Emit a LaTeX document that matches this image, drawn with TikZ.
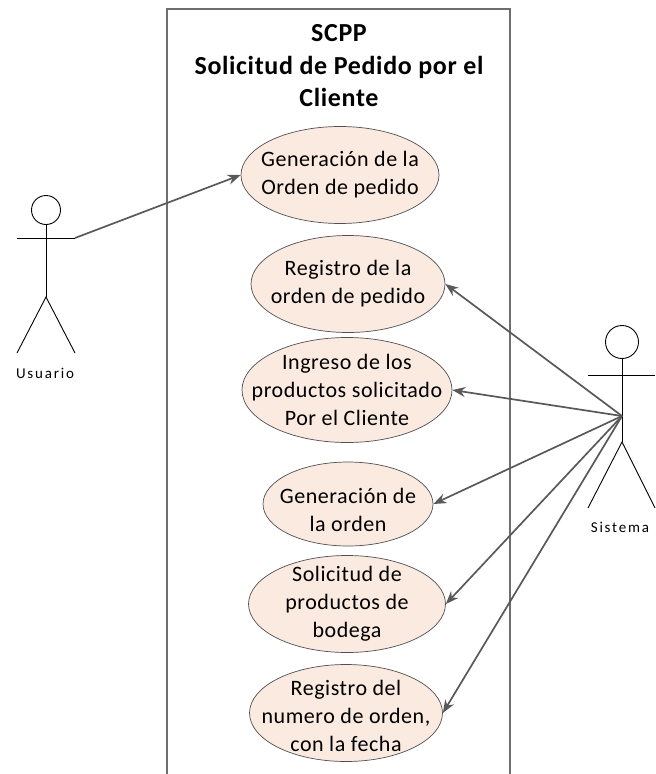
\documentclass[tikz,border=0pt]{standalone}
\usepackage{fontspec}
\setmainfont[LetterSpace=2.5]{Carlito}
\newfontfamily\actorfont[LetterSpace=12]{Carlito}
\usepackage{tikz}
\usetikzlibrary{arrows.meta,shapes.geometric}
\definecolor{ucfill}{RGB}{251,234,224}
\definecolor{ucdraw}{RGB}{80,80,80}
\definecolor{ucgray}{RGB}{89,89,89}
\definecolor{ucbox}{RGB}{110,110,110}
\tikzstyle{usecase} = [ellipse, inner sep=0pt, draw=ucdraw, fill=ucfill, line width=0.7pt]
\tikzstyle{uctext} = [align=center, inner sep=0pt, font=\fontsize{22}{28}\selectfont]
\tikzstyle{arrow} = [line width=1.7pt, -{Stealth[length=13pt,width=10pt]}, color=ucgray]
\tikzstyle{actorhead} = [circle, draw=black, line width=0.9pt, inner sep=0pt]
\tikzstyle{actorline} = [draw=black, line width=0.9pt]
\tikzstyle{actorname} = [font=\actorfont\fontsize{15}{18}\selectfont]

\begin{document}
\begin{tikzpicture}[x=1pt, y=-1pt]
\useasboundingbox (0,0) rectangle (656,774);

% System boundary
\draw[ucbox, line width=1.3pt] (167,774) -- (167,9) -- (510,9) -- (510,774);
\node[font=\bfseries\fontsize{26}{32.5}\selectfont, align=center] (title) at (339,66) {SCPP\\Solicitud de Pedido por el\\Cliente};

% Use cases
\node[usecase, minimum width=198pt, minimum height=97pt, label={[uctext]center:Generación de la\\Orden de pedido}] (gen) at (340,175) {};
\node[usecase, minimum width=194pt, minimum height=97pt, label={[uctext]center:Registro de la\\orden de pedido}] (reg) at (348,284) {};
\node[usecase, minimum width=210pt, minimum height=105pt, label={[uctext]center:Ingreso de los\\productos solicitado\\Por el Cliente}] (ing) at (347,390) {};
\node[usecase, minimum width=170pt, minimum height=84pt, label={[uctext, yshift=-6pt]center:Generación de\\la orden}] (genord) at (348,504) {};
\node[usecase, minimum width=197pt, minimum height=97pt, label={[uctext]center:Solicitud de\\productos de\\bodega}] (sol) at (347,604) {};
\node[usecase, minimum width=193pt, minimum height=97pt, label={[uctext, yshift=-3pt]center:{Registro del\\numero de orden,\\con la fecha}}] (num) at (346,713) {};

% Usuario
\node[actorhead, minimum size=29pt] (usrhead) at (46,210) {};
\draw[actorline] (usrhead.south) -- (46,297) coordinate (usrhip);
\draw[actorline] (17,238) -- (75,238) coordinate (usrhand);
\draw[actorline] (17,353) -- (usrhip) -- (75,353);
\node[actorname] (usrname) at (45,373) {Usuario};

% Sistema
\node[actorhead, minimum size=33pt] (sishead) at (622,342) {};
\draw[actorline] (sishead.south) -- (622,442) coordinate (siship);
\draw[actorline] (588,375) -- (655,375);
\draw[actorline] (588,508) -- (siship) -- (655,508);
\coordinate (sishub) at (622,416);
\node[actorname] (sisname) at (620,527) {Sistema};

% Arrows
\draw[arrow] (usrhand) -- (gen.west);
\draw[arrow] (sishub) -- (reg.east);
\draw[arrow] (sishub) -- (ing.east);
\draw[arrow] (sishub) -- (genord.east);
\draw[arrow] (sishub) -- (sol.east);
\draw[arrow] (sishub) -- (num.east);
\end{tikzpicture}
\end{document}
